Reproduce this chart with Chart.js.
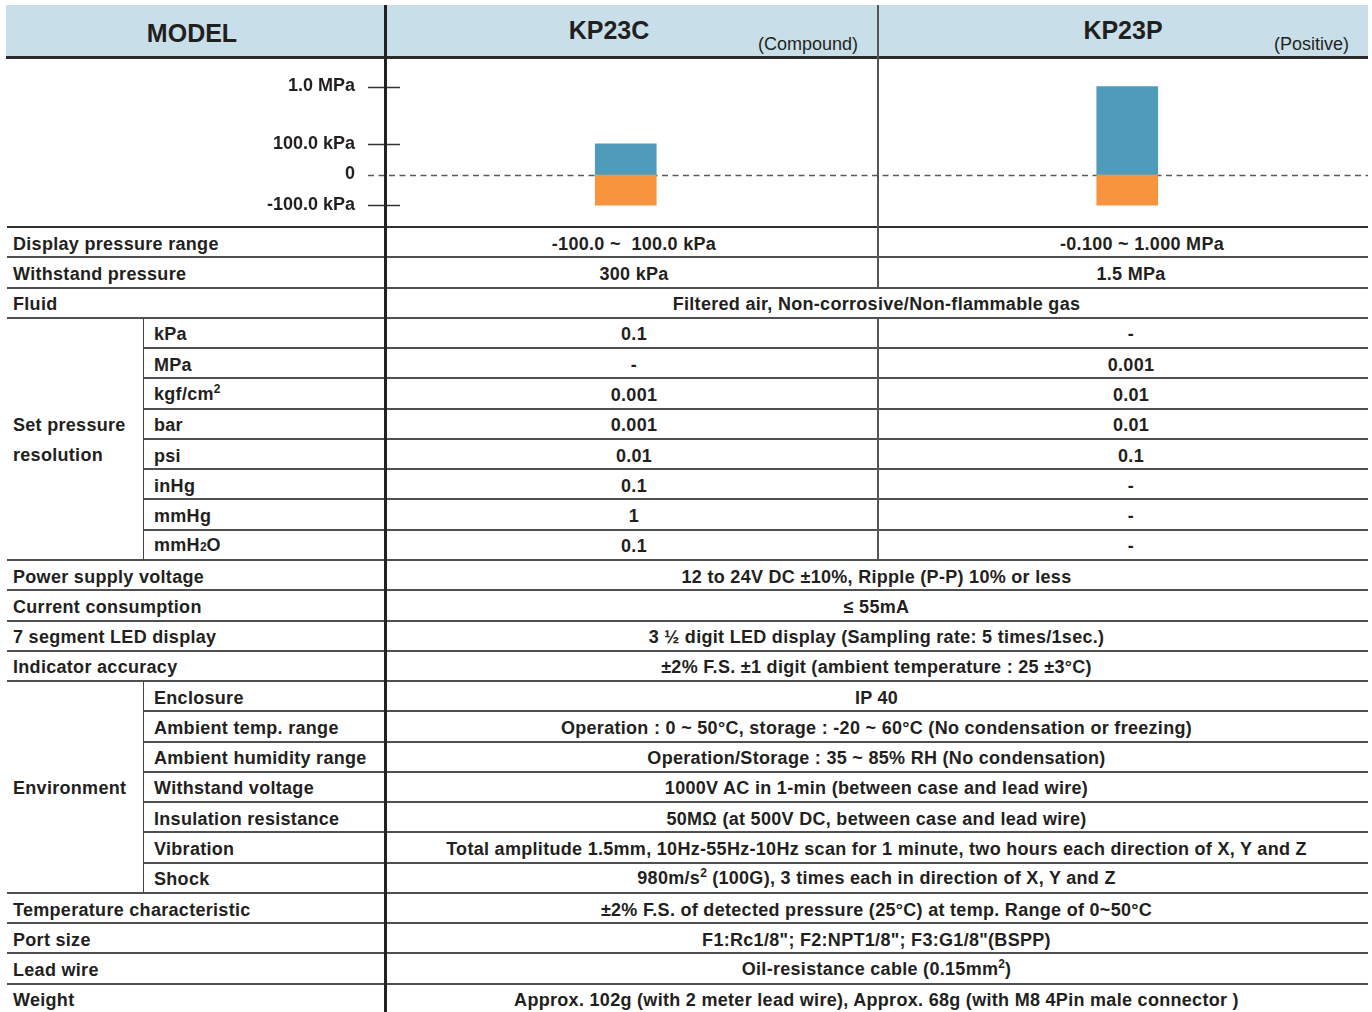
<!DOCTYPE html>
<html><head><meta charset="utf-8">
<script src="https://cdn.jsdelivr.net/npm/chart.js@4.4.1/dist/chart.umd.min.js"></script>
<style>
html,body{margin:0;padding:0;background:#fff;overflow:hidden;}
#wrap{position:relative;width:1372px;height:1012px;overflow:hidden;font-family:'Liberation Sans',Arial,Helvetica,sans-serif;color:#231f20;background:#fff;}
.a{position:absolute;}
.hdr{left:6px;top:5px;width:1362px;height:52px;background:#c8dfea;}
.ht{position:absolute;white-space:nowrap;line-height:1;}
.row{position:absolute;height:30.27px;display:flex;align-items:center;white-space:nowrap;font-weight:bold;font-size:18px;letter-spacing:0.3px;line-height:20px;z-index:3;padding-top:3px;box-sizing:border-box;}
.ctr{justify-content:center;}
.grp{position:absolute;left:13px;font-weight:bold;font-size:18px;letter-spacing:0.3px;line-height:30.5px;display:flex;align-items:center;z-index:3;padding-top:3px;box-sizing:border-box;}
sup{font-size:12px;vertical-align:0;position:relative;top:-7px;letter-spacing:0;}
.s2{font-size:12px;letter-spacing:0;}
.hl{position:absolute;height:2px;background:#505050;z-index:4;}
.vl{position:absolute;z-index:5;}
#chartBox{position:absolute;left:0;top:58px;width:1380px;height:169px;z-index:2;}
</style>
</head>
<body>
<div id="wrap">
  <div class="a hdr"></div>
  <div class="ht" style="left:192px;top:33px;transform:translate(-50%,-50%);font-size:25px;font-weight:bold;">MODEL</div>
  <div class="ht" style="left:609px;top:30px;transform:translate(-50%,-50%);font-size:25px;font-weight:bold;">KP23C</div>
  <div class="ht" style="right:514px;top:44px;transform:translateY(-50%);font-size:18px;">(Compound)</div>
  <div class="ht" style="left:1123px;top:30px;transform:translate(-50%,-50%);font-size:25px;font-weight:bold;">KP23P</div>
  <div class="ht" style="right:23px;top:44px;transform:translateY(-50%);font-size:18px;">(Positive)</div>
  <div id="chartBox"><canvas id="c" width="1380" height="169"></canvas></div>
  <div id="tbl"></div>
</div>
<script>
// ---- chart data ----
const models = ['KP23C', 'KP23P'];
const rangeLowKpa = [-100, -100];
const rangeHighKpa = [100, 1000];
const axisTickKpa = [-100, 0, 100, 1000];
const axisTickLabels = ['-100.0 kPa', '0', '100.0 kPa', '1.0 MPa'];

// broken pressure axis: linear up to 100 kPa, compressed above
function toAxis(v) { return v <= 100 ? v / 100 : 1 + (v - 100) / 900 * 1.862; }

const zeroAndTicks = {
  id: 'zeroAndTicks',
  beforeDatasetsDraw(chart) {
    const { ctx, chartArea: a, scales: { y } } = chart;
    const y0 = Math.round(y.getPixelForValue(toAxis(0))) + 0.5;
    ctx.save();
    ctx.strokeStyle = '#5a5a5a'; ctx.lineWidth = 1.5; ctx.setLineDash([6, 4.5]);
    ctx.beginPath(); ctx.moveTo(a.left - 7, y0); ctx.lineTo(a.right - 10, y0); ctx.stroke();
    ctx.restore();
  },
  afterDatasetsDraw(chart) {
    const { ctx, chartArea: a, scales: { y } } = chart;
    ctx.save();
    ctx.strokeStyle = '#333'; ctx.lineWidth = 1.5;
    axisTickKpa.forEach(v => {
      if (v === 0) return;
      const py = Math.round(y.getPixelForValue(toAxis(v))) + 0.5;
      ctx.beginPath(); ctx.moveTo(a.left - 7, py); ctx.lineTo(a.left + 25, py); ctx.stroke();
    });
    ctx.restore();
  }
};

new Chart(document.getElementById('c'), {
  type: 'bar',
  data: {
    labels: models,
    datasets: [
      { label: 'Positive range', data: models.map((m, i) => [toAxis(0), toAxis(rangeHighKpa[i])]), backgroundColor: '#4f9bba', grouped: false },
      { label: 'Negative range', data: models.map((m, i) => [toAxis(rangeLowKpa[i]), toAxis(0)]), backgroundColor: '#f7943d', grouped: false }
    ]
  },
  options: {
    responsive: false, animation: false, devicePixelRatio: 1,
    layout: { padding: { left: 0, right: 2, top: 0, bottom: 0 } },
    plugins: { legend: { display: false }, tooltip: { enabled: false } },
    datasets: { bar: { barThickness: 61, borderWidth: 0, borderSkipped: false } },
    scales: {
      x: { type: 'category', display: false, offset: true, grid: { display: false } },
      y: {
        type: 'linear', min: -1.707, max: 3.789, position: 'left',
        grid: { display: false, drawTicks: false }, border: { display: false },
        ticks: {
          padding: 20, color: '#231f20', autoSkip: false,
          font: { family: "'Liberation Sans', Arial, sans-serif", size: 18, weight: 'bold' },
          callback: (v, i) => axisTickLabels[i]
        },
        afterBuildTicks: s => { s.ticks = axisTickKpa.map(v => ({ value: toAxis(v) })); },
        afterFit: s => { s.width = 375; s.paddingTop = 0; s.paddingBottom = 0; }
      }
    }
  },
  plugins: [zeroAndTicks]
});

// ---- specification table ----
const rows = [
  { label: 'Display pressure range', c: '-100.0 ~&nbsp; 100.0 kPa', p: '<span style="margin-left:22px">-0.100 ~ 1.000 MPa</span>' },
  { label: 'Withstand pressure', c: '300 kPa', p: '1.5 MPa' },
  { label: 'Fluid', m: 'Filtered air, Non-corrosive/Non-flammable gas' },
  { g: 1, sub: 'kPa', c: '0.1', p: '-' },
  { g: 1, sub: 'MPa', c: '-', p: '0.001' },
  { g: 1, sub: 'kgf/cm<sup>2</sup>', c: '0.001', p: '0.01' },
  { g: 1, sub: 'bar', c: '0.001', p: '0.01' },
  { g: 1, sub: 'psi', c: '0.01', p: '0.1' },
  { g: 1, sub: 'inHg', c: '0.1', p: '-' },
  { g: 1, sub: 'mmHg', c: '1', p: '-' },
  { g: 1, sub: 'mmH<span class="s2">2</span>O', c: '0.1', p: '-' },
  { label: 'Power supply voltage', m: '12 to 24V DC ±10%, Ripple (P-P) 10% or less' },
  { label: 'Current consumption', m: '≤ 55mA' },
  { label: '7 segment LED display', m: '3 ½ digit LED display (Sampling rate: 5 times/1sec.)' },
  { label: 'Indicator accuracy', m: '±2% F.S. ±1 digit (ambient temperature : 25 ±3°C)' },
  { g: 2, sub: 'Enclosure', m: 'IP 40' },
  { g: 2, sub: 'Ambient temp. range', m: 'Operation : 0 ~ 50°C, storage : -20 ~ 60°C (No condensation or freezing)' },
  { g: 2, sub: 'Ambient humidity range', m: 'Operation/Storage : 35 ~ 85% RH (No condensation)' },
  { g: 2, sub: 'Withstand voltage', m: '1000V AC in 1-min (between case and lead wire)' },
  { g: 2, sub: 'Insulation resistance', m: '50MΩ (at 500V DC, between case and lead wire)' },
  { g: 2, sub: 'Vibration', m: 'Total amplitude 1.5mm, 10Hz-55Hz-10Hz scan for 1 minute, two hours each direction of X, Y and Z' },
  { g: 2, sub: 'Shock', m: '980m/s<sup>2</sup> (100G), 3 times each in direction of X, Y and Z' },
  { label: 'Temperature characteristic', m: '±2% F.S. of detected pressure (25°C) at temp. Range of 0~50°C' },
  { label: 'Port size', m: 'F1:Rc1/8"; F2:NPT1/8"; F3:G1/8"(BSPP)' },
  { label: 'Lead wire', m: 'Oil-resistance cable (0.15mm<sup>2</sup>)' },
  { label: 'Weight', m: 'Approx. 102g (with 2 meter lead wire), Approx. 68g (with M8 4Pin male connector )' }
];
const groups = { 1: 'Set pressure<br>resolution', 2: 'Environment' };

const T0 = 227, RH = 30.27;
let html = '';
const cell = (cls, left, width, top, content) =>
  `<div class="row${cls}" style="left:${left}px;width:${width}px;top:${top}px;"><span>${content}</span></div>`;

rows.forEach((r, i) => {
  const top = T0 + i * RH;
  if (r.label) html += cell('', 13, 370, top, r.label);
  if (r.sub) html += cell('', 154, 228, top, r.sub);
  if (r.m) html += cell(' ctr', 387, 979, top, r.m);
  if (r.c) html += cell(' ctr', 390, 488, top, r.c);
  if (r.p) html += cell(' ctr', 894, 474, top, r.p);
  if (i > 0) {
    const inner = r.g && rows[i - 1].g === r.g;
    const x0 = inner ? 143 : 7;
    html += `<div class="hl" style="left:${x0}px;width:${1368 - x0}px;top:${(top - 1).toFixed(2)}px;"></div>`;
  }
});
// group labels and sub-column dividers
[1, 2].forEach(g => {
  const idx = rows.map((r, i) => r.g === g ? i : -1).filter(i => i >= 0);
  const y0 = T0 + idx[0] * RH, y1 = T0 + (idx[idx.length - 1] + 1) * RH;
  html += `<div class="grp" style="top:${y0}px;height:${y1 - y0}px;">${groups[g]}</div>`;
  html += `<div class="vl" style="left:142.5px;width:1.6px;background:#454545;top:${y0}px;height:${y1 - y0}px;"></div>`;
});
// structural lines
html += `<div class="hl" style="left:7px;width:1361px;top:226px;height:2.2px;background:#303030;"></div>`;
html += `<div class="hl" style="left:6px;width:1362px;top:56px;height:2.6px;background:#2b2b2b;"></div>`;
html += `<div class="vl" style="left:384px;width:2.6px;background:#222;top:5px;height:1010px;"></div>`;
// model divider: broken where the Fluid row spans both models
const fluidTop = T0 + 2 * RH, fluidBot = T0 + 3 * RH, resBot = T0 + 11 * RH;
html += `<div class="vl" style="left:877px;width:1.8px;background:#555;top:5px;height:${(fluidTop - 5).toFixed(2)}px;"></div>`;
html += `<div class="vl" style="left:877px;width:1.8px;background:#555;top:${fluidBot.toFixed(2)}px;height:${(resBot - fluidBot).toFixed(2)}px;"></div>`;
document.getElementById('tbl').innerHTML = html;
</script>
</body></html>
